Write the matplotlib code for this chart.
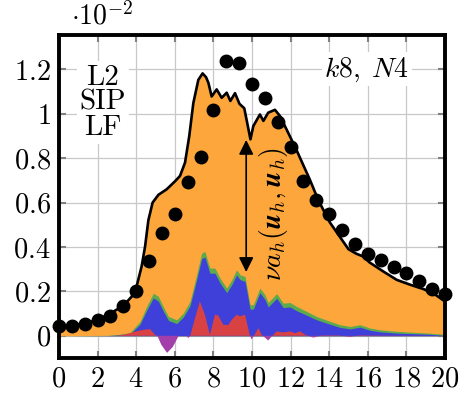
import numpy as np
import matplotlib
matplotlib.use("Agg")
import matplotlib.pyplot as plt

plt.rcParams['mathtext.fontset'] = 'cm'
plt.rcParams['font.family'] = 'serif'
plt.rcParams['font.serif'] = ['cmr10', 'DejaVu Serif']
plt.rcParams['axes.unicode_minus'] = False

# reference dissipation (dots), units of 1e-2
t_dots = [0, 0.667, 1.333, 2, 2.667, 3.333, 4, 4.667, 5.333, 6, 6.667, 7.333, 8,
          8.667, 9.333, 10, 10.667, 11.333, 12, 12.667, 13.333, 14, 14.667,
          15.333, 16, 16.667, 17.333, 18, 18.667, 19.333, 20]
dots = [0.045, 0.045, 0.055, 0.069, 0.091, 0.132, 0.203, 0.337, 0.461, 0.547,
        0.692, 0.805, 1.018, 1.237, 1.231, 1.134, 1.073, 0.963, 0.852, 0.697,
        0.612, 0.55, 0.477, 0.413, 0.368, 0.341, 0.312, 0.285, 0.248, 0.213, 0.188]

# total dissipation (black line)
t_total = [0.0, 0.7, 1.35, 2.0, 2.64, 3.33, 3.77, 4.02, 4.28, 4.46, 4.63, 4.85,
           5.15, 5.58, 6.0, 6.27, 6.53, 6.75, 6.96, 7.22, 7.44, 7.62, 7.74, 7.91,
           8.17, 8.43, 8.69, 8.88, 9.12, 9.35, 9.6, 9.75, 9.92, 10.07, 10.41,
           10.59, 10.84, 11.19, 11.45, 11.8, 12.3, 13.0, 13.44, 14.04, 14.56,
           15.0, 15.4, 15.77, 16.1, 16.8, 17.5, 18.2, 18.9, 19.5, 20.0]
total = [0.042, 0.048, 0.057, 0.072, 0.1, 0.135, 0.177, 0.222, 0.312, 0.402, 0.52,
         0.6, 0.635, 0.66, 0.695, 0.72, 0.78, 0.9, 1.048, 1.153, 1.182, 1.165,
         1.14, 1.078, 1.11, 1.072, 1.095, 1.058, 1.093, 1.045, 1.025, 0.96, 0.885,
         0.945, 0.997, 0.968, 1.005, 1.018, 0.99, 0.928, 0.838, 0.703, 0.61, 0.51,
         0.445, 0.39, 0.37, 0.357, 0.33, 0.29, 0.252, 0.23, 0.21, 0.185, 0.155]

# stabilisation terms: upper edge of green, thickness of green band
t_stab = [0.0, 2.5, 3.0, 3.68, 4.2, 4.54, 4.89, 5.15, 5.4, 5.67, 6.1, 6.44, 6.79,
          7.13, 7.39, 7.56, 7.82, 8.08, 8.34, 8.69, 8.95, 9.2, 9.38, 9.64, 9.9,
          10.07, 10.41, 10.67, 10.84, 11.28, 11.62, 11.97, 12.31, 12.83, 13.35,
          14.04, 14.56, 15.08, 15.6, 16.11, 16.63, 17.5, 18.5, 19.2, 20.0]
green_top = [0.0, 0.002, 0.005, 0.014, 0.065, 0.132, 0.192, 0.177, 0.132, 0.087,
             0.072, 0.102, 0.155, 0.275, 0.372, 0.38, 0.305, 0.305, 0.26, 0.215,
             0.252, 0.297, 0.275, 0.267, 0.14, 0.14, 0.215, 0.185, 0.15, 0.19,
             0.147, 0.15, 0.132, 0.11, 0.087, 0.065, 0.05, 0.042, 0.05, 0.035,
             0.027, 0.02, 0.015, 0.012, 0.006]
green_band = [0.0, 0.001, 0.002, 0.006, 0.013, 0.018, 0.021, 0.021, 0.02, 0.018,
              0.017, 0.018, 0.02, 0.023, 0.025, 0.025, 0.023, 0.023, 0.022, 0.021,
              0.022, 0.023, 0.022, 0.022, 0.02, 0.02, 0.021, 0.021, 0.02, 0.021,
              0.02, 0.02, 0.019, 0.017, 0.015, 0.013, 0.012, 0.011, 0.011, 0.01,
              0.009, 0.008, 0.006, 0.005, 0.004]

# signed term (red positive, purple negative)
t_signed = [0.0, 3.0, 3.5, 4.0, 4.37, 4.72, 4.97, 5.1, 5.3, 5.6, 5.9, 6.2, 6.6,
            6.7, 6.8, 7.05, 7.3, 7.56, 7.82, 8.08, 8.25, 8.51, 8.77, 8.95, 9.2,
            9.38, 9.64, 9.88, 9.98, 10.1, 10.33, 10.5, 10.84, 11.05, 11.28, 11.62,
            11.97, 12.23, 12.49, 12.75, 13.18, 13.6, 14.5, 15.08, 15.5, 17.0, 20.0]
signed = [0.0, 0.0, 0.008, 0.02, 0.027, 0.03, 0.005, 0.0, -0.04, -0.077, -0.05, 0.0,
          0.0, -0.01, 0.0, 0.08, 0.155, 0.095, 0.005, 0.095, 0.092, 0.05, 0.048,
          0.072, 0.095, 0.088, 0.095, 0.005, -0.016, 0.0, 0.035, 0.005, -0.021,
          0.0, 0.02, 0.015, 0.02, 0.012, 0.02, 0.005, -0.008, 0.002, 0.002,
          -0.005, 0.002, 0.001, 0.0]

orange = '#FCA63C'
blue = '#3F3FDA'
green = '#5BAA4E'
red = '#D94242'
purple = '#A23FAA'

fig = plt.figure(figsize=(4.7, 4.0), dpi=100)
ax = fig.add_axes([0.1255, 0.105, 0.8213, 0.8075])

t_stab_a = np.array(t_stab)
g_top = np.array(green_top)
b_top = g_top - np.array(green_band)
t_s = np.array(t_signed)
s = np.array(signed)

ax.fill_between(t_total, 0, total, color=orange, lw=0, zorder=2)
ax.fill_between(t_stab_a, 0, g_top, color=green, lw=0, zorder=3)
ax.fill_between(t_stab_a, 0, b_top, color=blue, lw=0, zorder=4)
ax.fill_between(t_s, 0, s, where=s >= 0, interpolate=True, color=red, lw=0, zorder=5)
ax.fill_between(t_s, 0, s, where=s <= 0, interpolate=True, color=purple, lw=0, zorder=5)
ax.plot(t_total, total, color='black', lw=1.9, zorder=6)
ax.plot(t_dots, dots, 'o', color='black', ms=9, zorder=7, clip_on=False)

ax.set_xlim(0, 20)
ax.set_ylim(-0.1, 1.355)
xt = list(range(0, 21, 2))
ax.set_xticks(xt)
ax.set_xticklabels([f'${v}$' for v in xt])
yt = [0, 0.2, 0.4, 0.6, 0.8, 1.0, 1.2]
ax.set_yticks(yt)
ax.set_yticklabels(['$0$', '$0.2$', '$0.4$', '$0.6$', '$0.8$', '$1$', '$1.2$'])
ax.tick_params(direction='in', length=5, width=1.5, color='#808080',
               top=True, right=True, labelsize=20.5, pad=6)
ax.grid(True, color='#C8C8C8', lw=0.9, zorder=0)
ax.set_axisbelow(True)
for sp in ax.spines.values():
    sp.set_linewidth(2.8)
    sp.set_zorder(10)

ax.annotate('', xy=(9.7, 0.895), xytext=(9.7, 0.275),
            arrowprops=dict(arrowstyle='<|-|>', color='black', lw=1.2,
                            mutation_scale=22), zorder=8)
ax.text(11.1, 0.55, r'$\nu a_h(\boldsymbol{u}_h,\boldsymbol{u}_h)$', rotation=90,
        fontsize=20, ha='center', va='center', zorder=8)

bbox = dict(facecolor='white', edgecolor='none', pad=2)
ax.text(2.28, 1.05, 'L2\nSIP\nLF', ha='center', va='center', fontsize=21,
        linespacing=0.95, bbox=bbox, zorder=9)
ax.text(15.96, 1.2, r'$k8,\;N4$', ha='center', va='center', fontsize=20,
        bbox=bbox, zorder=9)
fig.text(0.152, 0.995, r'$\cdot 10^{-2}$', ha='left', va='top', fontsize=20)

fig.savefig('out.png', dpi=100)
